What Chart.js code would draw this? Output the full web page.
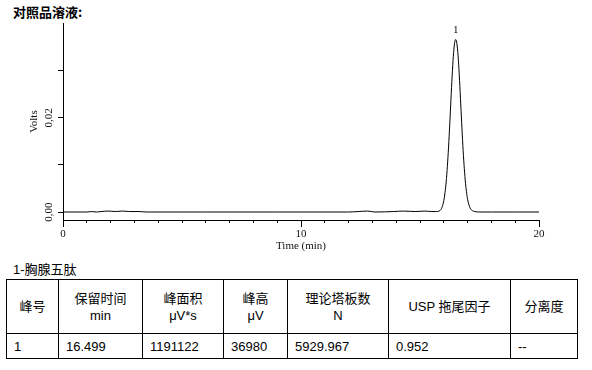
<!DOCTYPE html>
<html>
<head>
<meta charset="utf-8">
<script src="https://cdn.jsdelivr.net/npm/chart.js@4/dist/chart.umd.min.js"></script>
<style>
  body { margin: 0; background: #fff; width: 592px; height: 370px; position: relative; overflow: hidden; }
  #title { position: absolute; left: 13px; top: 2px; font: bold 13px "Noto Sans CJK SC", sans-serif; color: #000; }
  #chartBox { position: absolute; left: 0; top: 0; width: 592px; height: 258px; }
  #caption { position: absolute; left: 13px; top: 259px; font: 13px "Liberation Sans", "Noto Sans CJK SC", sans-serif; color: #000; }
  table { position: absolute; left: 6px; top: 279px; border-collapse: collapse; font: 13px "Liberation Sans", "Noto Sans CJK SC", sans-serif; color: #000; table-layout: fixed; }
  td { border: 1px solid #000; padding: 0 7px; }
  tr.head td { height: 53px; text-align: center; line-height: 17px; }
  tr.row td { height: 24px; text-align: left; }
</style>
</head>
<body>
<div id="title">对照品溶液:</div>
<div id="chartBox"><canvas id="c" width="592" height="258"></canvas></div>
<div id="caption">1-胸腺五肽</div>
<table id="peaks"></table>
<script>
// chromatogram
const times = [0, 1.0, 1.2, 1.4, 1.6, 1.9, 2.2, 2.5, 2.8, 3.2, 3.5, 6, 9, 12, 12.4, 12.8, 13.1, 13.9, 14.3, 14.8, 15.2, 15.5, 15.7,
  15.8, 15.9, 16.0, 16.05, 16.1, 16.15, 16.2, 16.25, 16.3, 16.35, 16.4, 16.45, 16.5, 16.55, 16.6, 16.65, 16.7, 16.75,
  16.8, 16.85, 16.9, 16.95, 17.0, 17.1, 17.2, 17.3, 17.5, 18, 19, 20];
const volts = [0, 0, 0.0001, 0, 0.0001, 0.0002, 0.0001, 0.0002, 0.0001, 0.0001, 0, 0, 0, 0, 0.0001, 0.0002, 0, 0.0001, 0.0002, 0.0001, 0.0002, 0.0001, 0.0001,
  0.0002, 0.0007, 0.0024, 0.0041, 0.0064, 0.0097, 0.0138, 0.0187, 0.0239, 0.0289, 0.0331, 0.0358, 0.0367, 0.0358, 0.0332, 0.0291, 0.0242, 0.0191,
  0.0142, 0.0101, 0.0068, 0.0044, 0.0027, 0.0009, 0.0003, 0.0001, 0, 0, 0, 0];
const peakNames = ['1'];

const timeTicks = [0, 1, 2, 3, 4, 5, 6, 7, 8, 9, 10, 11, 12, 13, 14, 15, 16, 17, 18, 19, 20];
const timeLabels = [0, 10, 20];
const voltTicks = [0, 0.01, 0.02, 0.03];
const voltLabels = [0, 0.02];
const voltLabelText = ['0,00', '0,02'];

// peak table
const headers = ['峰号', '保留时间<br>min', '峰面积<br>μV*s', '峰高<br>μV', '理论塔板数<br>N', 'USP 拖尾因子', '分离度'];
const colWidths = [52, 84, 81, 64, 101, 122, 67];
const peakRow = ['1', '16.499', '1191122', '36980', '5929.967', '0.952', '--'];

const tbl = document.getElementById('peaks');
tbl.innerHTML =
  '<colgroup>' + colWidths.map(w => `<col style="width:${w}px">`).join('') + '</colgroup>' +
  '<tr class="head">' + headers.map(h => `<td>${h}</td>`).join('') + '</tr>' +
  '<tr class="row">' + peakRow.map(v => `<td>${v}</td>`).join('') + '</tr>';

const serif = { family: '"Liberation Serif", "Times New Roman", serif', size: 11 };

const extras = {
  id: 'extras',
  afterDraw(chart) {
    const { ctx, scales: { x, y } } = chart;
    ctx.save();
    ctx.strokeStyle = '#000';
    ctx.lineWidth = 1;
    timeLabels.forEach(t => {
      const px = Math.round(x.getPixelForValue(t)) + 0.5;
      ctx.beginPath();
      ctx.moveTo(px, x.top);
      ctx.lineTo(px, x.top + 7);
      ctx.stroke();
    });
    ctx.fillStyle = '#111';
    ctx.font = '11px "Liberation Serif", serif';
    ctx.textAlign = 'center';
    ctx.textBaseline = 'middle';
    voltLabels.forEach((v, i) => {
      ctx.save();
      ctx.translate(y.right - 14, y.getPixelForValue(v));
      ctx.rotate(-Math.PI / 2);
      ctx.fillText(voltLabelText[i], 0, 0);
      ctx.restore();
    });
    const top = volts.indexOf(Math.max(...volts));
    const pt = chart.getDatasetMeta(0).data[top];
    ctx.fillText(peakNames[0], pt.x, pt.y - 9);
    ctx.restore();
  }
};

new Chart(document.getElementById('c'), {
  type: 'line',
  data: {
    datasets: [{
      data: times.map((t, i) => ({ x: t, y: volts[i] })),
      borderColor: '#000',
      borderWidth: 1,
      pointRadius: 0,
      cubicInterpolationMode: 'monotone',
      fill: false
    }]
  },
  options: {
    responsive: false,
    devicePixelRatio: 1,
    animation: false,
    layout: { padding: { top: 23, right: 53, left: 0, bottom: 0 } },
    plugins: { legend: { display: false }, tooltip: { enabled: false } },
    scales: {
      x: {
        type: 'linear',
        min: 0, max: 20,
        afterBuildTicks: s => { s.ticks = timeTicks.map(v => ({ value: v })); },
        afterFit: s => { s.height = 38; },
        grid: { drawOnChartArea: false, tickLength: 3, color: '#000', tickColor: '#000' },
        border: { color: '#000', width: 1 },
        ticks: {
          color: '#111', font: serif, padding: 5, maxRotation: 0, autoSkip: false,
          callback: v => timeLabels.includes(v) ? String(v) : ''
        },
        title: { display: true, text: 'Time (min)', color: '#111', font: serif, padding: { top: 0, bottom: 5 } }
      },
      y: {
        min: -0.0017, max: 0.0402,
        afterBuildTicks: s => { s.ticks = voltTicks.map(v => ({ value: v })); },
        afterFit: s => { s.width = 63; },
        grid: { drawOnChartArea: false, tickLength: 5, color: '#000', tickColor: '#000' },
        border: { color: '#000', width: 1 },
        ticks: { callback: () => '' },
        title: { display: true, text: 'Volts', color: '#111', font: serif, padding: { top: 28, bottom: 0 } }
      }
    }
  },
  plugins: [extras]
});
</script>
</body>
</html>
